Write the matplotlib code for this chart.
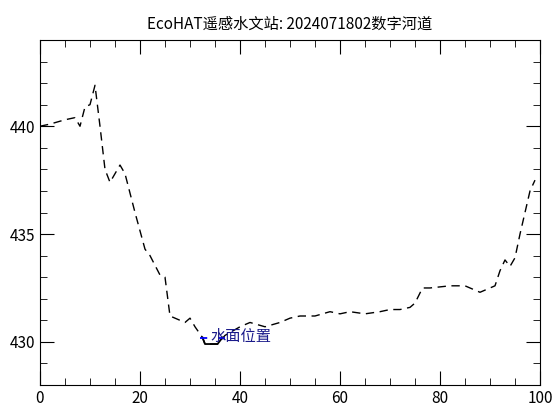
import matplotlib
matplotlib.use("Agg")
import matplotlib.pyplot as plt
from matplotlib.ticker import MultipleLocator

plt.rcParams['font.family'] = ['Noto Sans CJK SC', 'DejaVu Sans']

x = [0, 2, 5, 7, 8, 9, 10, 11, 12, 13, 14, 16, 17, 19, 21, 22, 24, 25, 26, 28, 29, 30, 31, 32.5,
     33, 35.5, 37, 40, 42, 45, 48, 50, 52, 55, 58, 60, 62, 65, 68, 70, 72, 74, 75, 76.5, 78, 82,
     85, 88, 90, 91, 92, 93, 94, 95, 96, 97, 98, 99]
y = [440, 440.1, 440.3, 440.4, 440.0, 440.9, 441.0, 441.9, 440.0, 438.0, 437.4, 438.2, 437.8,
     436.0, 434.3, 434.0, 433.1, 433.0, 431.2, 431.0, 430.9, 431.1, 430.7, 430.2, 429.9, 429.9,
     430.3, 430.7, 430.9, 430.7, 430.9, 431.1, 431.2, 431.2, 431.4, 431.3, 431.4, 431.3, 431.4,
     431.5, 431.5, 431.6, 431.8, 432.5, 432.5, 432.6, 432.6, 432.3, 432.5, 432.6, 433.3, 433.8,
     433.5, 433.9, 435.0, 436.0, 437.0, 437.5]
water_x = [32.5, 33, 35.5, 36.5]
water_y = [430.2, 429.9, 429.9, 430.2]
wl_x = [32, 37]
wl_y = [430.2, 430.2]

fig = plt.figure(figsize=(5.55, 4.11), dpi=100)
ax = fig.add_axes([40/555, 1-385/411, 500/555, 345/411])
ax.plot(x, y, color='black', ls=(0, (6, 4)), lw=1)
ax.plot(water_x, water_y, color='black', lw=1.3)
ax.plot(wl_x, wl_y, color='blue', ls=(0, (4, 6)), lw=1.3)
ax.text(34, 430.25, '水面位置', color='#1a1a8a', fontsize=11, va='center')
ax.set_xlim(0, 100)
ax.set_ylim(428, 444)
ax.xaxis.set_major_locator(MultipleLocator(20))
ax.xaxis.set_minor_locator(MultipleLocator(5))
ax.yaxis.set_major_locator(MultipleLocator(5))
ax.yaxis.set_minor_locator(MultipleLocator(1))
ax.tick_params(which='both', direction='in', top=True, right=True, labelsize=11)
ax.tick_params(which='major', length=10)
ax.tick_params(which='minor', length=5)
ax.set_title('EcoHAT遥感水文站: 2024071802数字河道', fontsize=11, pad=8)
fig.savefig('out.png', dpi=100)
